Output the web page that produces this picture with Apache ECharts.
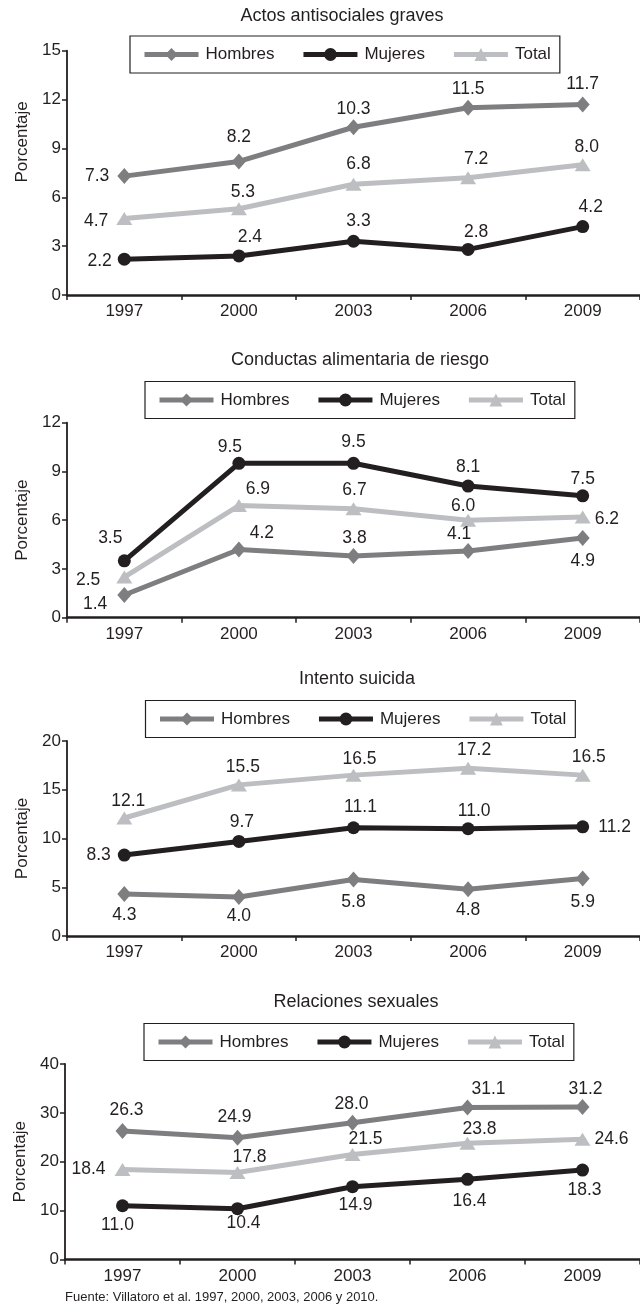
<!DOCTYPE html>
<html>
<head>
<meta charset="utf-8">
<script src="https://cdn.jsdelivr.net/npm/echarts@6/dist/echarts.min.js"></script>
<style>
html,body{margin:0;padding:0;background:#fff;}
#c{width:640px;height:1308px;}
</style>
</head>
<body>
<div id="c"></div>
<script>
// ---------- DATA ----------
const years = ['1997', '2000', '2003', '2006', '2009'];
const chartTitles = ['Actos antisociales graves', 'Conductas alimentaria de riesgo', 'Intento suicida', 'Relaciones sexuales'];
const seriesNames = ['Hombres', 'Mujeres', 'Total'];
const yMax = [15, 12, 20, 40];
const yStep = [3, 3, 5, 10];
const yName = 'Porcentaje';
const footer = 'Fuente: Villatoro et al. 1997, 2000, 2003, 2006 y 2010.';

const hombres1 = [7.3, 8.2, 10.3, 11.5, 11.7];
const mujeres1 = [2.2, 2.4, 3.3, 2.8, 4.2];
const total1   = [4.7, 5.3, 6.8, 7.2, 8.0];

const hombres2 = [1.4, 4.2, 3.8, 4.1, 4.9];
const mujeres2 = [3.5, 9.5, 9.5, 8.1, 7.5];
const total2   = [2.5, 6.9, 6.7, 6.0, 6.2];

const hombres3 = [4.3, 4.0, 5.8, 4.8, 5.9];
const mujeres3 = [8.3, 9.7, 11.1, 11.0, 11.2];
const total3   = [12.1, 15.5, 16.5, 17.2, 16.5];

const hombres4 = [26.3, 24.9, 28.0, 31.1, 31.2];
const mujeres4 = [11.0, 10.4, 14.9, 16.4, 18.3];
const total4   = [18.4, 17.8, 21.5, 23.8, 24.6];

// ---------- STYLE / LAYOUT ----------
const FONT = "'Liberation Sans', Arial, Helvetica, sans-serif";
const INK = '#231f20';
const COLORS = {Hombres: '#7e7e81', Mujeres: '#231f20', Total: '#bdbec1'};
const SYMBOLS = {Hombres: ['diamond', [14, 16]], Mujeres: ['circle', 13], Total: ['triangle', [16, 13]]};

// label placement per point: [position, dx, dy, distance]
const place = [
  { Hombres: [['left',0,0,8],['top',0,-3],['top',0,3],['top',0,2],['top',0,1]],
    Mujeres: [['left',0,2,6],['top',11,1],['top',5,-1],['top',8,2],['top',8,0]],
    Total:   [['left',0,3,8],['top',4,3],['top',5,-1],['top',8,1],['top',4,2]] },
  { Hombres: [['left',0,9,10],['top',23,5],['top',1,3],['top',-9,4],['bottom',0,2]],
    Mujeres: [['top',-14,-3],['top',-9,3],['top',0,-2],['top',0,1],['top',0,3]],
    Total:   [['left',0,3,16],['top',19,3],['top',1,1],['top',-5,5],['right',0,2,4]] },
  { Hombres: [['bottom',0,0],['bottom',0,-2],['bottom',0,2],['bottom',0,0],['bottom',0,3]],
    Mujeres: [['left',0,0,7],['top',3,0],['top',7,-1],['top',6,2],['right',0,0,9]],
    Total:   [['top',4,3],['top',4,2],['top',6,4],['top',6,1],['top',6,2]] },
  { Hombres: [['top',4,0],['top',-3,0],['top',-1,3],['top',21,3],['top',3,3]],
    Mujeres: [['bottom',-5,0],['bottom',6,-5],['bottom',3,-1],['bottom',2,2],['bottom',2,1]],
    Total:   [['left',0,0,9],['top',12,4],['top',13,4],['top',12,5],['right',0,0,4]] }
];

const data = [
  {Hombres: hombres1, Mujeres: mujeres1, Total: total1},
  {Hombres: hombres2, Mujeres: mujeres2, Total: total2},
  {Hombres: hombres3, Mujeres: mujeres3, Total: total3},
  {Hombres: hombres4, Mujeres: mujeres4, Total: total4}
];

const gridTop = [50.7, 422.7, 741, 1064];
const gridBottomY = [295, 617.7, 936, 1259.5];
const gridLeft = [67, 67, 67, 65];
const titleX = [342, 360, 357, 356];
const titleTop = [7, 351.5, 670.5, 993.5];
const legendLeft = [130, 145, 145.5, 144];
const legendTop = [36, 381.5, 700.5, 1023.5];
const nameShift = [62, 0, 0, 0];

const option = {
  animation: false,
  backgroundColor: '#fff',
  textStyle: {fontFamily: FONT, color: INK},
  title: [], legend: [], grid: [], xAxis: [], yAxis: [], series: [],
  graphic: [{
    type: 'text', left: 65, top: 1291,
    style: {text: footer, font: '13px ' + FONT, fill: INK}
  }]
};

for (let c = 0; c < 4; c++) {
  option.title.push({
    text: chartTitles[c], left: titleX[c], top: titleTop[c], textAlign: 'center', padding: 0,
    textStyle: {fontFamily: FONT, fontSize: 18, fontWeight: 'normal', color: INK}
  });
  option.legend.push({
    data: seriesNames, left: legendLeft[c], top: legendTop[c], orient: 'horizontal',
    itemWidth: 54, itemHeight: 16, itemGap: 26.5,
    padding: [10, 9, 10, 12],
    borderColor: INK, borderWidth: 1.2, borderRadius: 0,
    selectedMode: false,
    lineStyle: {width: 5},
    textStyle: {fontFamily: FONT, fontSize: 17, color: INK, padding: [0, 0, 0, 2]}
  });
  option.grid.push({
    left: gridLeft[c], top: gridTop[c], width: 576, height: gridBottomY[c] - gridTop[c],
    containLabel: false
  });
  option.xAxis.push({
    type: 'category', gridIndex: c, data: years, boundaryGap: true,
    axisLine: {lineStyle: {color: INK, width: 2.5}},
    axisTick: {show: true, length: 5, lineStyle: {color: INK, width: 1.5}},
    axisLabel: {fontFamily: FONT, fontSize: 17, color: INK, margin: 8},
    splitLine: {show: false}
  });
  option.yAxis.push({
    type: 'value', gridIndex: c, min: 0, max: yMax[c], interval: yStep[c],
    name: yName, nameLocation: 'middle', nameGap: 36,
    nameTextStyle: {fontFamily: FONT, fontSize: 17, color: INK, padding: [0, 0, 0, nameShift[c]]},
    axisLine: {show: true, lineStyle: {color: INK, width: 1.8}},
    axisTick: {show: true, length: 5, lineStyle: {color: INK, width: 1.5}},
    axisLabel: {fontFamily: FONT, fontSize: 17, color: INK, margin: 6},
    splitLine: {show: false}
  });
  seriesNames.forEach(name => {
    const vals = data[c][name];
    const pl = place[c][name];
    option.series.push({
      type: 'line', name: name, xAxisIndex: c, yAxisIndex: c,
      symbol: SYMBOLS[name][0], symbolSize: SYMBOLS[name][1],
      lineStyle: {color: COLORS[name], width: 5},
      itemStyle: {color: COLORS[name]},
      z: name === 'Mujeres' ? 3 : 2,
      label: {show: true, fontFamily: FONT, fontSize: 17.5, color: INK,
              formatter: p => Number(p.value).toFixed(1)},
      data: vals.map((v, i) => ({
        value: v,
        label: {position: pl[i][0], offset: [pl[i][1], pl[i][2]], distance: pl[i][3] !== undefined ? pl[i][3] : 4}
      }))
    });
  });
}

const chart = echarts.init(document.getElementById('c'), null, {renderer: 'canvas'});
chart.setOption(option);
</script>
</body>
</html>
